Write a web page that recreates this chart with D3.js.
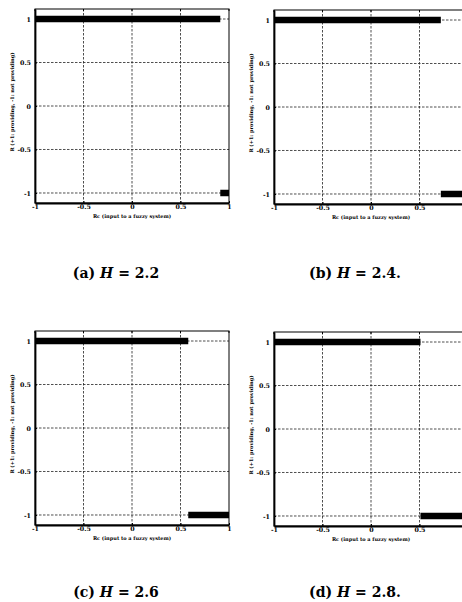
<!DOCTYPE html>
<html>
<head>
<meta charset="utf-8">
<style>
  body {margin: 0; background: #fff;}
  svg {display: block;}
  .tick {font-family: "DejaVu Serif", "Liberation Serif", serif; font-weight: bold; font-size: 6.3px;}
  .axlabel {font-family: "DejaVu Serif", "Liberation Serif", serif; font-weight: bold; font-size: 5px;}
  .caption {font-family: "DejaVu Serif", "Liberation Serif", serif; font-weight: bold; font-size: 14px;}
</style>
<script src="https://d3js.org/d3.v7.min.js"></script>
</head>
<body>
<svg id="fig" width="462" height="602"></svg>
<script>
// panel data
var panelTags = ["(a)", "(b)", "(c)", "(d)"];
var hValues = ["2.2", "2.4", "2.6", "2.8"];
var captionEnd = ["", ".", "", "."];
// Rc where the output switches from +1 to -1
var switchPoints = [0.91, 0.72, 0.58, 0.51];
var xTicks = [-1, -0.5, 0, 0.5, 1];
var xTickLabels = ["-1", "-0.5", "0", "0.5", "1"];
var yTicks = [-1, -0.5, 0, 0.5, 1];
var yTickLabels = ["-1", "-0.5", "0", "0.5", "1"];

// layout of the 2x2 grid (top-left corner of each plot box) and caption baselines
var origins = [[35, 9], [274, 10], [35, 331], [274, 332]];
var captionY = [278, 278, 597, 597];
var boxW = 194, boxH = 194;
var pageW = 462;

var svg = d3.select("#fig");

panelTags.forEach(function (tag, i) {
  var g = svg.append("g")
    .attr("transform", "translate(" + origins[i][0] + "," + origins[i][1] + ")");

  var x = d3.scaleLinear().domain([-1, 1]).range([0, boxW]);
  var y = d3.scaleLinear().domain([-1.115, 1.115]).range([boxH, 0]);

  // dotted grid
  g.selectAll(".gy").data(yTicks).enter().append("line")
    .attr("x1", 0).attr("x2", boxW)
    .attr("y1", function (d) { return y(d); })
    .attr("y2", function (d) { return y(d); })
    .attr("stroke", "#222").attr("stroke-width", 0.8)
    .attr("stroke-dasharray", "2.5,1.5");
  g.selectAll(".gx").data(xTicks.slice(1, -1)).enter().append("line")
    .attr("y1", 0).attr("y2", boxH)
    .attr("x1", function (d) { return x(d); })
    .attr("x2", function (d) { return x(d); })
    .attr("stroke", "#222").attr("stroke-width", 0.8)
    .attr("stroke-dasharray", "2.5,1.5");

  // output R: +1 below the switch point, -1 above it
  var s = switchPoints[i];
  var segs = [
    {x0: -1, x1: s, r: 1},
    {x0: s, x1: 1, r: -1}
  ];
  g.selectAll(".seg").data(segs).enter().append("line")
    .attr("x1", function (d) { return x(d.x0); })
    .attr("x2", function (d) { return x(d.x1); })
    .attr("y1", function (d) { return y(d.r); })
    .attr("y2", function (d) { return y(d.r); })
    .attr("stroke", "#000").attr("stroke-width", 6.5);

  // frame
  g.append("rect").attr("width", boxW).attr("height", boxH)
    .attr("fill", "none").attr("stroke", "#000").attr("stroke-width", 1);

  // labels that would fall past the page edge are not shown (cut in the scan)
  var xAxis = d3.axisBottom(x).tickValues(xTicks)
    .tickFormat(function (d, k) {
      return origins[i][0] + x(d) + 3 > pageW ? "" : xTickLabels[k];
    })
    .tickSizeInner(-2).tickSizeOuter(0).tickPadding(3);
  var ax = g.append("g").attr("transform", "translate(0," + boxH + ")").call(xAxis);
  ax.select(".domain").attr("stroke-width", 1.8);
  ax.selectAll("text").attr("class", "tick").attr("fill", "#000").attr("dy", "0.5em");

  var yAxis = d3.axisLeft(y).tickValues(yTicks)
    .tickFormat(function (d, k) { return yTickLabels[k]; })
    .tickSizeInner(-2).tickSizeOuter(0).tickPadding(4);
  var ay = g.append("g").call(yAxis);
  ay.select(".domain").attr("stroke-width", 1.8);
  ay.selectAll("text").attr("class", "tick").attr("fill", "#000");

  // top ticks
  g.selectAll(".tt").data(xTicks).enter().append("line")
    .attr("x1", function (d) { return x(d); })
    .attr("x2", function (d) { return x(d); })
    .attr("y1", 0).attr("y2", 2).attr("stroke", "#000");

  g.append("text").attr("class", "axlabel")
    .attr("x", boxW / 2).attr("y", boxH + 15)
    .attr("text-anchor", "middle")
    .text("Rc (input to a fuzzy system)");

  g.append("text").attr("class", "axlabel")
    .attr("transform", "translate(-21," + (boxH / 2 - 4) + ") rotate(-90)")
    .attr("text-anchor", "middle")
    .text("R (+1: providing, -1: not providing)");

  // caption
  var cap = svg.append("text").attr("class", "caption")
    .attr("x", origins[i][0] + boxW / 2 - 16).attr("y", captionY[i])
    .attr("text-anchor", "middle");
  cap.append("tspan").text(tag + " ");
  cap.append("tspan").attr("font-style", "italic").text("H");
  cap.append("tspan").text(" = " + hValues[i] + captionEnd[i]);
});
</script>
</body>
</html>
